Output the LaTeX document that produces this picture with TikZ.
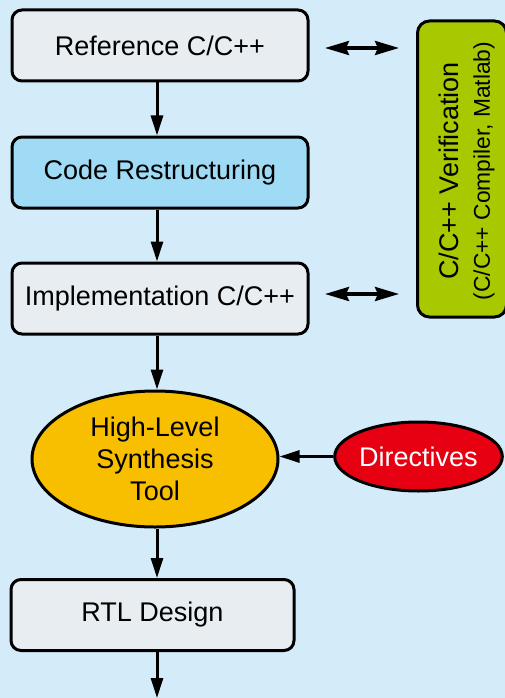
\documentclass[tikz,border=0pt]{standalone}
\usepackage{fontspec}
\setmainfont{Liberation Sans}
\usetikzlibrary{arrows.meta,shapes.geometric}
\definecolor{bg}{HTML}{D4ECF9}
\definecolor{boxgray}{HTML}{E8EDF1}
\definecolor{boxblue}{HTML}{9FDBF5}
\definecolor{hlsyellow}{HTML}{F8BE00}
\definecolor{dirred}{HTML}{E60012}
\definecolor{vergreen}{HTML}{A8C800}
\tikzset{
  stepbox/.style={draw=black, line width=3pt, rounded corners=10pt, fill=boxgray,
    minimum height=71pt, inner sep=0pt, font=\fontsize{27}{32}\selectfont},
  flow/.style={line width=3pt, -{Triangle[length=20pt,width=12pt]}},
  both/.style={line width=3.5pt, {Stealth[length=24pt,width=14pt,inset=3pt]}-{Stealth[length=24pt,width=14pt,inset=3pt]}},
}
\begin{document}
\begin{tikzpicture}[x=1pt,y=-1pt]
\useasboundingbox (0,0) rectangle (505,698);
\fill[bg] (0,0) rectangle (505,698);
\clip (0,0) rectangle (505,698);
\node[stepbox, minimum width=296pt] (ref) at (160,45.5) {Reference C/C++};
\node[stepbox, minimum width=296pt, fill=boxblue] (code) at (160,172.5) {Code Restructuring};
\node[stepbox, minimum width=296pt] (impl) at (160,298.5) {Implementation C/C++};
\node[ellipse, draw=black, line width=3pt, fill=hlsyellow, minimum width=246pt, minimum height=136pt,
  inner sep=0pt, align=center, font=\fontsize{27}{32}\selectfont] (hls) at (155,459) {High-Level\\Synthesis\\Tool};
\node[ellipse, draw=black, line width=3pt, fill=dirred, minimum width=167pt, minimum height=69pt,
  inner sep=0pt, text=white, font=\fontsize{27}{32}\selectfont] (dir) at (418.5,456.5) {Directives};
\node[stepbox, minimum width=283pt] (rtl) at (152.5,615) {RTL Design};
\node[draw=black, line width=3pt, rounded corners=12pt, fill=vergreen, minimum width=296pt, minimum height=89pt,
  rotate=90, inner sep=0pt] (ver) at (462,169) {};
\node[rotate=90, inner sep=0pt, align=center, font=\fontsize{27}{30}\selectfont] (vertext) at (467,171)
  {C/C++ Verification\\[1pt]{\fontsize{22.8}{26}\selectfont (C/C++ Compiler, Matlab)}};
\coordinate (out) at (157,698);
\draw[flow] (ref.south -| 157,0) -- (code.north -| 157,0);
\draw[flow] (code.south -| 157,0) -- (impl.north -| 157,0);
\draw[flow] (impl.south -| 157,0) -- (hls.north -| 157,0);
\draw[flow] (hls.south -| 157,0) -- (rtl.north -| 157,0);
\draw[flow] (rtl.south -| 157,0) -- (out);
\draw[flow] (dir.west) -- (hls.east |- dir.west);
\coordinate (a1l) at (325,48);
\coordinate (a1r) at (399,48);
\coordinate (a2l) at (325,294);
\coordinate (a2r) at (399,294);
\draw[both] (a1l) -- (a1r);
\draw[both] (a2l) -- (a2r);
\end{tikzpicture}
\end{document}
